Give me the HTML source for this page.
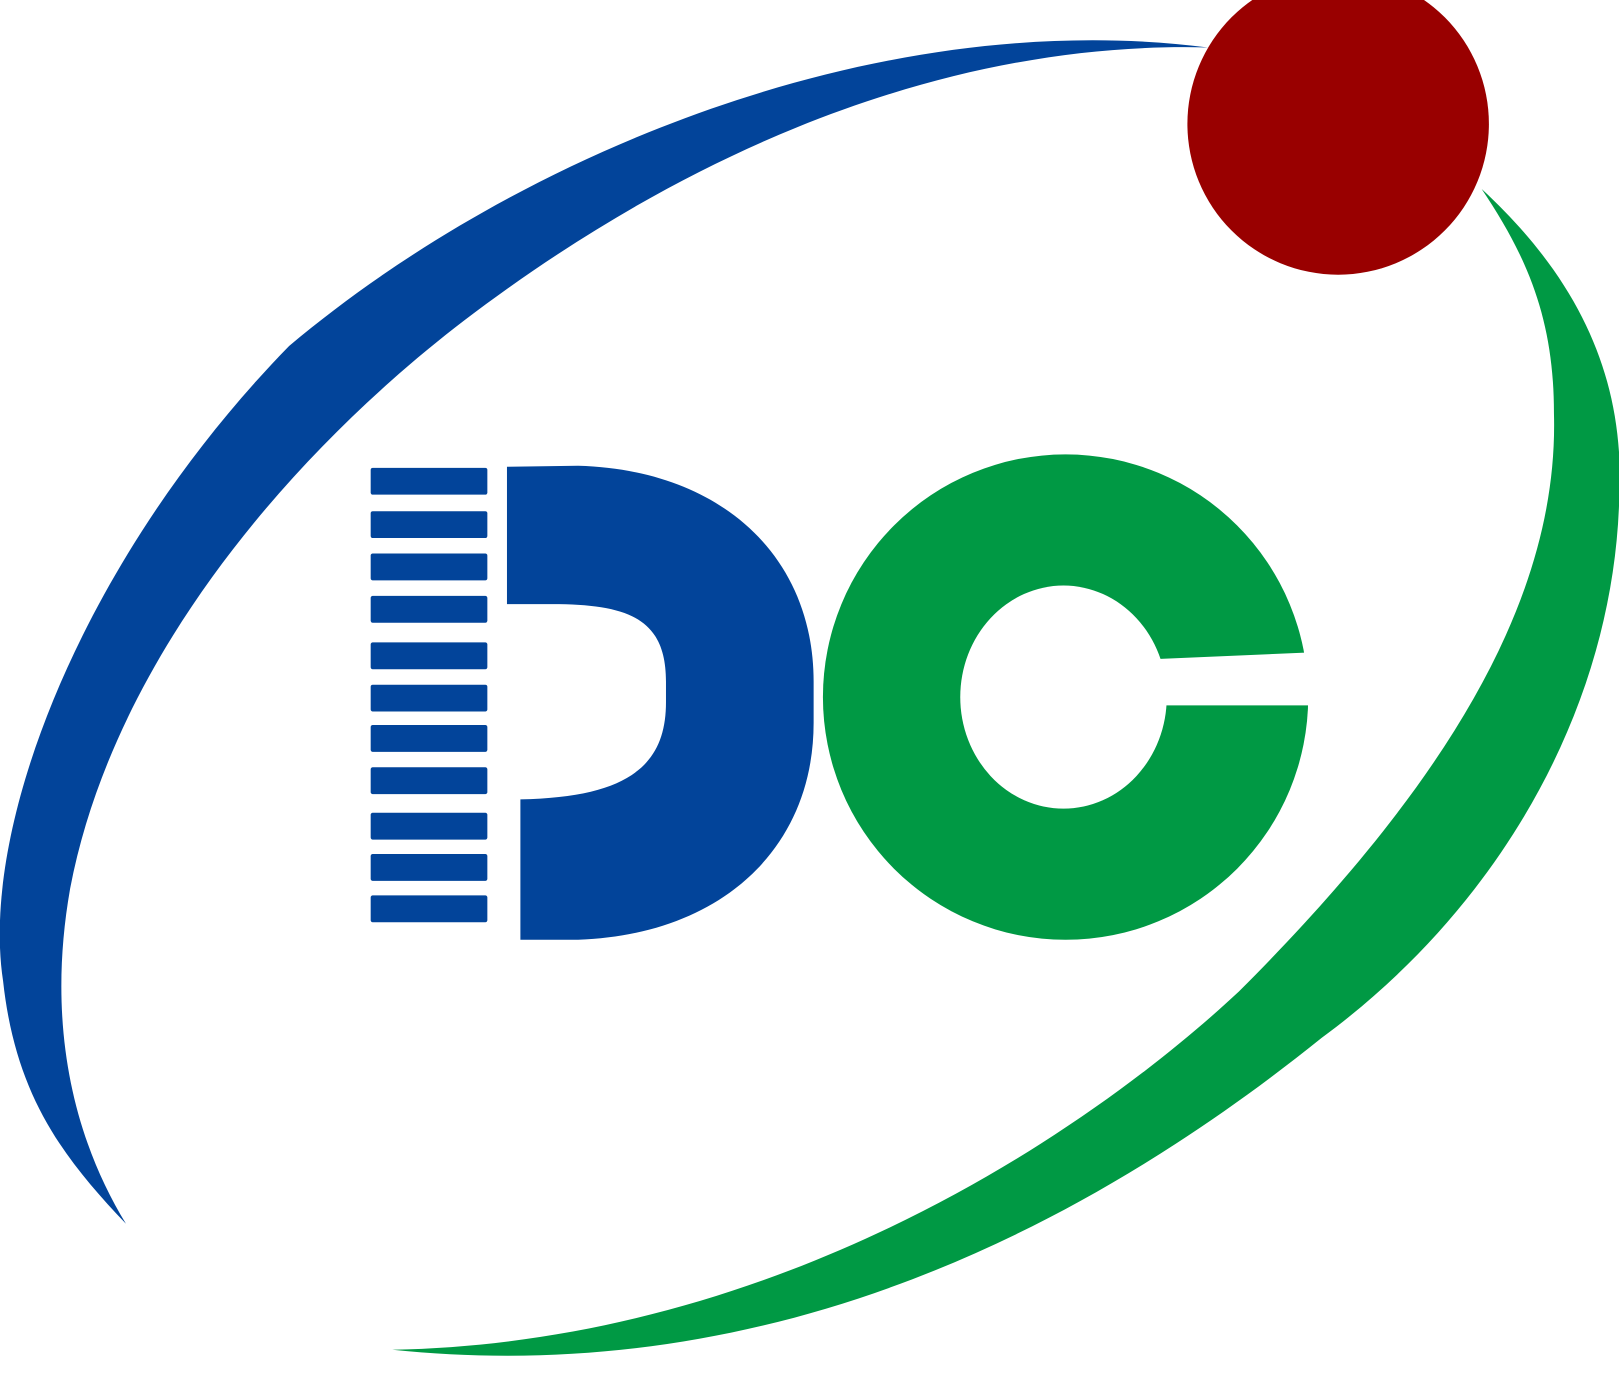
<!DOCTYPE html>
<html><head><meta charset="utf-8"><style>html,body{margin:0;padding:0;background:#fff;overflow:hidden}svg{display:block}</style></head>
<body>
<svg width="1619" height="1389" viewBox="0 0 1568 1345" preserveAspectRatio="none" xmlns="http://www.w3.org/2000/svg">
<rect width="1568" height="1345" fill="#fff"/>
<path fill="#02449a" d="M1170,46 C850,5 500,150 280,335 C80,540 -20,800 3,950 C15,1060 60,1120 122,1185 C70,1100 45,990 68,860 C110,640 280,440 450,310 C700,120 950,40 1170,46 Z"/>
<path fill="#009944" d="M1435,183 C1540,280 1575,380 1568,490 C1560,690 1450,880 1280,1005 C1000,1230 700,1340 380,1307 C750,1300 1050,1100 1200,960 C1400,760 1510,580 1505,400 C1505,310 1480,250 1435,183 Z"/>
<circle cx="1296" cy="120" r="146" fill="#990000"/>
<g fill="#02449a">
<rect x="359" y="453" width="113" height="26" rx="2"/>
<rect x="359" y="495" width="113" height="26" rx="2"/>
<rect x="359" y="536" width="113" height="26" rx="2"/>
<rect x="359" y="577" width="113" height="26" rx="2"/>
<rect x="359" y="622" width="113" height="26" rx="2"/>
<rect x="359" y="663" width="113" height="26" rx="2"/>
<rect x="359" y="702" width="113" height="26" rx="2"/>
<rect x="359" y="743" width="113" height="26" rx="2"/>
<rect x="359" y="787" width="113" height="26" rx="2"/>
<rect x="359" y="827" width="113" height="26" rx="2"/>
<rect x="359" y="867" width="113" height="26" rx="2"/>
</g>
<path fill="#02449a" d="M491,452 L560,451 C700,455 788,540 788,660 L788,700 C788,820 700,905 560,910 L504,910 L504,774 C610,772 645,740 645,680 L645,660 C645,600 610,585 535,585 L491,585 Z"/>
<g>
<circle cx="1032" cy="675" r="235" fill="#009944"/>
<ellipse cx="1030" cy="675" rx="100" ry="108" fill="#fff"/>
<path fill="#fff" d="M1115,645 L1124,638 L1264,632 L1280,632 L1280,683 L1129,683 L1115,683 Z"/>
</g>
</svg>
</body></html>
